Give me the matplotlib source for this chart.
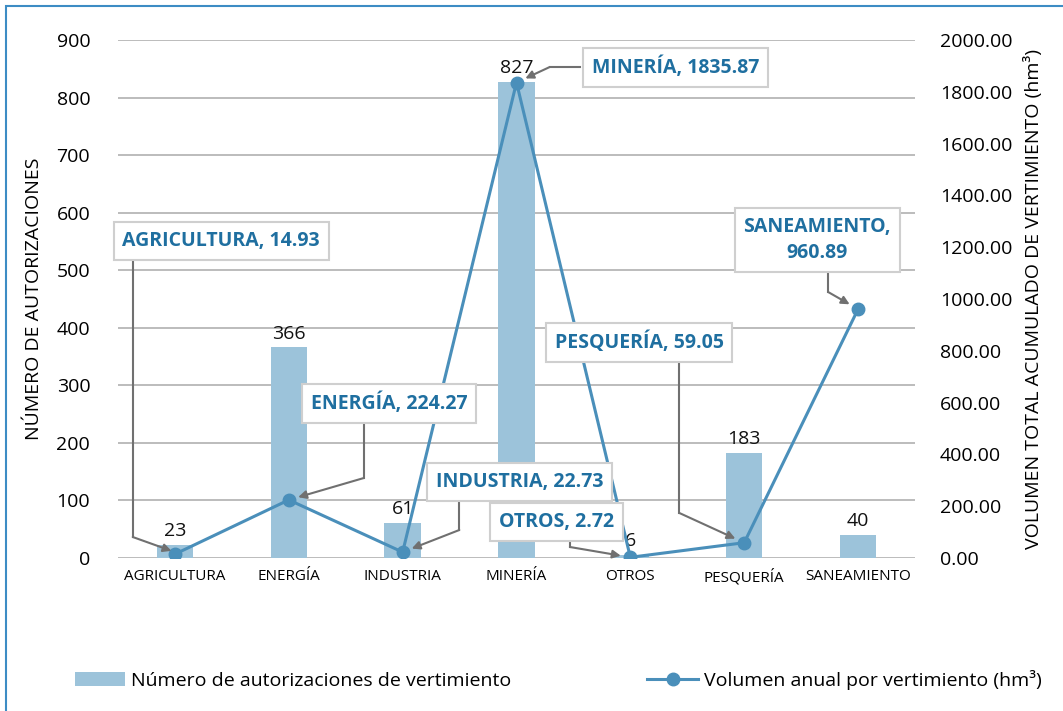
import matplotlib
matplotlib.use("Agg")
import matplotlib.pyplot as plt
from matplotlib.patches import Rectangle
from matplotlib.lines import Line2D
from matplotlib.patches import Patch

categories = ["AGRICULTURA", "ENERGÍA", "INDUSTRIA", "MINERÍA", "OTROS", "PESQUERÍA", "SANEAMIENTO"]
autorizaciones = [23, 366, 61, 827, 6, 183, 40]
volumen = [14.93, 224.27, 22.73, 1835.87, 2.72, 59.05, 960.89]
left_ticks = [0, 100, 200, 300, 400, 500, 600, 700, 800, 900]
right_ticks = [0, 200, 400, 600, 800, 1000, 1200, 1400, 1600, 1800, 2000]

plt.rcParams['font.family'] = ['Open Sans', 'DejaVu Sans']

BAR = "#9cc3da"
LINE = "#4a8fba"
TXT = "#1f6fa0"
GRID = "#b0b0b0"

fig = plt.figure(figsize=(10.63, 7.11), dpi=100)
ax = fig.add_axes([118/1063, 1-558/711, (915-118)/1063, (558-40)/711])
ax2 = ax.twinx()

x = list(range(len(categories)))
ax.bar(x, autorizaciones, width=0.32, color=BAR, zorder=2)
for xi, v in zip(x, autorizaciones):
    ax.text(xi, v + 8, str(v), ha="center", va="bottom", fontsize=14, color="#111111", zorder=5)

ax.set_xlim(-0.5, 6.5)
ax.set_ylim(0, 900)
ax.set_yticks(left_ticks)
ax.set_yticklabels([str(t) for t in left_ticks], fontsize=14)
ax.yaxis.grid(True, color=GRID, linewidth=1.2, zorder=0)
ax.set_axisbelow(True)
ax.set_xticks(x)
ax.set_xticklabels(categories, fontsize=11)
ax.tick_params(axis="both", length=0, pad=8)
ax.tick_params(axis="y", pad=20)
for s in ax.spines.values():
    s.set_visible(False)
for s in ax2.spines.values():
    s.set_visible(False)
ax.set_ylabel("NÚMERO DE AUTORIZACIONES", fontsize=14, labelpad=10)

ax2.plot(x, volumen, color=LINE, linewidth=2.2, marker="o", markersize=9, zorder=6)
ax2.set_ylim(0, 2000)
ax2.set_yticks(right_ticks)
ax2.set_yticklabels([f"{t:.2f}" for t in right_ticks], fontsize=14)
ax2.tick_params(axis="y", length=0, pad=18)
ax2.set_ylabel("VOLUMEN TOTAL ACUMULADO DE VERTIMIENTO (hm³)", fontsize=14, labelpad=8)

# annotation helpers: pixel -> data on ax2
def dx(px):
    return (px - 175) / 113.3
def dy(py):
    return (558 - py) * 2000 / 518

labels = [
    ("AGRICULTURA, 14.93", (221, 241), [(133, 258), (133, 537)]),
    ("ENERGÍA, 224.27", (388, 403), [(363, 420), (363, 478)]),
    ("INDUSTRIA, 22.73", (518, 482), [(458, 498), (458, 530)]),
    ("MINERÍA, 1835.87", (673, 67), [(578, 67), (548, 67)]),
    ("OTROS, 2.72", (555, 522), [(568, 540), (568, 547)]),
    ("PESQUERÍA, 59.05", (637, 342), [(677, 358), (677, 513)]),
    ("SANEAMIENTO,\n960.89", (814, 240), [(825, 270), (825, 292)]),
]
bbox = dict(boxstyle="square,pad=0.45", facecolor="white", edgecolor="#cfcfcf", linewidth=1.5)
for i, (txt, (cx, cy), pts) in enumerate(labels):
    ax2.plot([dx(p[0]) for p in pts], [dy(p[1]) for p in pts], color="#707070", linewidth=1.5, zorder=7, clip_on=False)
    ax2.annotate("", xy=(x[i] + (0.05 if i == 0 else 0), volumen[i]), xytext=(dx(pts[-1][0]), dy(pts[-1][1])),
                 arrowprops=dict(arrowstyle="-|>", color="#707070", lw=1.5, shrinkA=0, shrinkB=7, mutation_scale=12),
                 zorder=7, annotation_clip=False)
    ax2.text(dx(cx), dy(cy), txt, ha="center", va="center", fontsize=14, fontweight="bold",
             color=TXT, bbox=bbox, zorder=8, linespacing=1.4, clip_on=False)

# legend
handles = [Patch(facecolor=BAR, edgecolor="none"),
           Line2D([0], [0], color=LINE, linewidth=2.2, marker="o", markersize=9)]
fig.legend(handles, ["Número de autorizaciones de vertimiento", "Volumen anual por vertimiento (hm³)"],
           loc="center", bbox_to_anchor=(0.525, 1 - 680/711), ncol=2, frameon=False, fontsize=14,
           columnspacing=7, handlelength=2.6, handletextpad=0.3)

# figure border (left & top visible)
fig.patches.append(Rectangle((6/1063, -0.1), 1.2, 1 - 6/711 + 0.1, transform=fig.transFigure,
                             fill=False, edgecolor="#3d8cc4", linewidth=1.5))

fig.savefig("out.png", dpi=100)
